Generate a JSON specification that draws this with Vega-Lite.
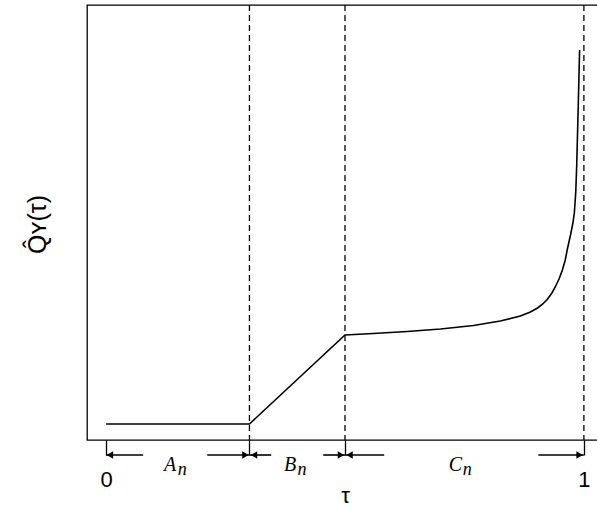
{
  "$schema": "https://vega.github.io/schema/vega-lite/v6.json",
  "width": 516,
  "height": 435,
  "autosize": {"type": "none"},
  "padding": {"left": 87, "top": 5, "right": 0, "bottom": 66},
  "background": "white",
  "config": {
    "view": {"stroke": "black", "strokeWidth": 1.3},
    "axis": {"grid": false}
  },
  "datasets": {
    "curve": [
      {"tau": 0.0, "q": 16},
      {"tau": 0.3, "q": 16},
      {"tau": 0.5, "q": 105},
      {"tau": 0.559, "q": 106.5},
      {"tau": 0.630, "q": 108.5},
      {"tau": 0.700, "q": 111},
      {"tau": 0.769, "q": 114.5},
      {"tau": 0.825, "q": 119},
      {"tau": 0.867, "q": 124},
      {"tau": 0.888, "q": 128},
      {"tau": 0.903, "q": 132},
      {"tau": 0.914, "q": 136},
      {"tau": 0.924, "q": 141},
      {"tau": 0.933, "q": 147},
      {"tau": 0.940, "q": 153},
      {"tau": 0.948, "q": 161},
      {"tau": 0.955, "q": 170},
      {"tau": 0.961, "q": 180},
      {"tau": 0.965, "q": 190},
      {"tau": 0.972, "q": 205},
      {"tau": 0.977, "q": 217},
      {"tau": 0.980, "q": 227},
      {"tau": 0.983, "q": 248},
      {"tau": 0.985, "q": 275},
      {"tau": 0.9885, "q": 340},
      {"tau": 0.991, "q": 390}
    ],
    "dashes": [{"tau": 0.3}, {"tau": 0.5}, {"tau": 1.0}],
    "arrows": [
      {"from": 0.0, "to": 0.0775, "q": -15},
      {"from": 0.2115, "to": 0.3, "q": -15},
      {"from": 0.3, "to": 0.3455, "q": -15},
      {"from": 0.4545, "to": 0.5, "q": -15},
      {"from": 0.5, "to": 0.582, "q": -15},
      {"from": 0.9047, "to": 1.0, "q": -15}
    ],
    "heads": [
      {"tau": 0.0080, "q": -15, "dir": "triangle-left"},
      {"tau": 0.2915, "q": -15, "dir": "triangle-right"},
      {"tau": 0.3095, "q": -15, "dir": "triangle-left"},
      {"tau": 0.4915, "q": -15, "dir": "triangle-right"},
      {"tau": 0.5095, "q": -15, "dir": "triangle-left"},
      {"tau": 0.9910, "q": -15, "dir": "triangle-right"}
    ],
    "labels": [
      {"tau": 0.134, "q": -25, "letter": "A", "sub": "n"},
      {"tau": 0.385, "q": -25, "letter": "B", "sub": "n"},
      {"tau": 0.731, "q": -25, "letter": "C", "sub": "n"}
    ]
  },
  "encoding": {
    "x": {
      "field": "tau",
      "type": "quantitative",
      "scale": {"domain": [-0.04, 1.04], "nice": false, "zero": false},
      "axis": {
        "values": [0, 0.3, 0.5, 1],
        "labelExpr": "datum.value == 0 ? '0' : (datum.value == 1 ? '1' : '')",
        "domain": false,
        "ticks": true,
        "tickSize": 15,
        "tickColor": "black",
        "tickWidth": 1.3,
        "labelFont": "Liberation Sans",
        "labelFontSize": 22,
        "labelColor": "black",
        "labelPadding": 14,
        "title": "τ",
        "titleFont": "Liberation Sans",
        "titleFontSize": 22,
        "titleFontWeight": "normal",
        "titleColor": "black",
        "titleBaseline": "alphabetic",
        "titleY": 62
      }
    },
    "y": {
      "field": "q",
      "type": "quantitative",
      "scale": {"domain": [0, 435], "nice": false, "zero": false},
      "axis": {
        "domain": false,
        "ticks": false,
        "labels": false,
        "title": "Q̂ʏ(τ)",
        "titleFont": "Liberation Sans",
        "titleFontSize": 25,
        "titleFontWeight": "normal",
        "titleColor": "black",
        "titleAngle": -90,
        "titleBaseline": "alphabetic",
        "titleAlign": "center",
        "titleX": -42,
        "titleY": 219
      }
    }
  },
  "layer": [
    {
      "data": {"name": "dashes"},
      "mark": {"type": "rule", "color": "black", "strokeWidth": 1.3, "strokeDash": [6, 4], "clip": false},
      "encoding": {"y": null}
    },
    {
      "data": {"name": "curve"},
      "mark": {"type": "line", "color": "black", "strokeWidth": 1.6, "clip": false}
    },
    {
      "data": {"name": "arrows"},
      "mark": {"type": "rule", "color": "black", "strokeWidth": 1.6, "clip": false},
      "encoding": {
        "x": {"field": "from", "type": "quantitative"},
        "x2": {"field": "to"}
      }
    },
    {
      "data": {"name": "heads"},
      "mark": {"type": "point", "filled": true, "color": "black", "size": 55, "opacity": 1, "clip": false},
      "encoding": {
        "shape": {"field": "dir", "type": "nominal", "scale": null, "legend": null}
      }
    },
    {
      "data": {"name": "labels"},
      "mark": {"type": "text", "font": "Liberation Serif", "fontStyle": "italic", "fontSize": 20, "baseline": "middle", "align": "center", "color": "black", "clip": false},
      "encoding": {"text": {"field": "letter"}}
    },
    {
      "data": {"name": "labels"},
      "mark": {"type": "text", "font": "Liberation Serif", "fontStyle": "italic", "fontSize": 18, "baseline": "middle", "align": "center", "dx": 12, "dy": 5, "color": "black", "clip": false},
      "encoding": {"text": {"field": "sub"}}
    }
  ]
}
